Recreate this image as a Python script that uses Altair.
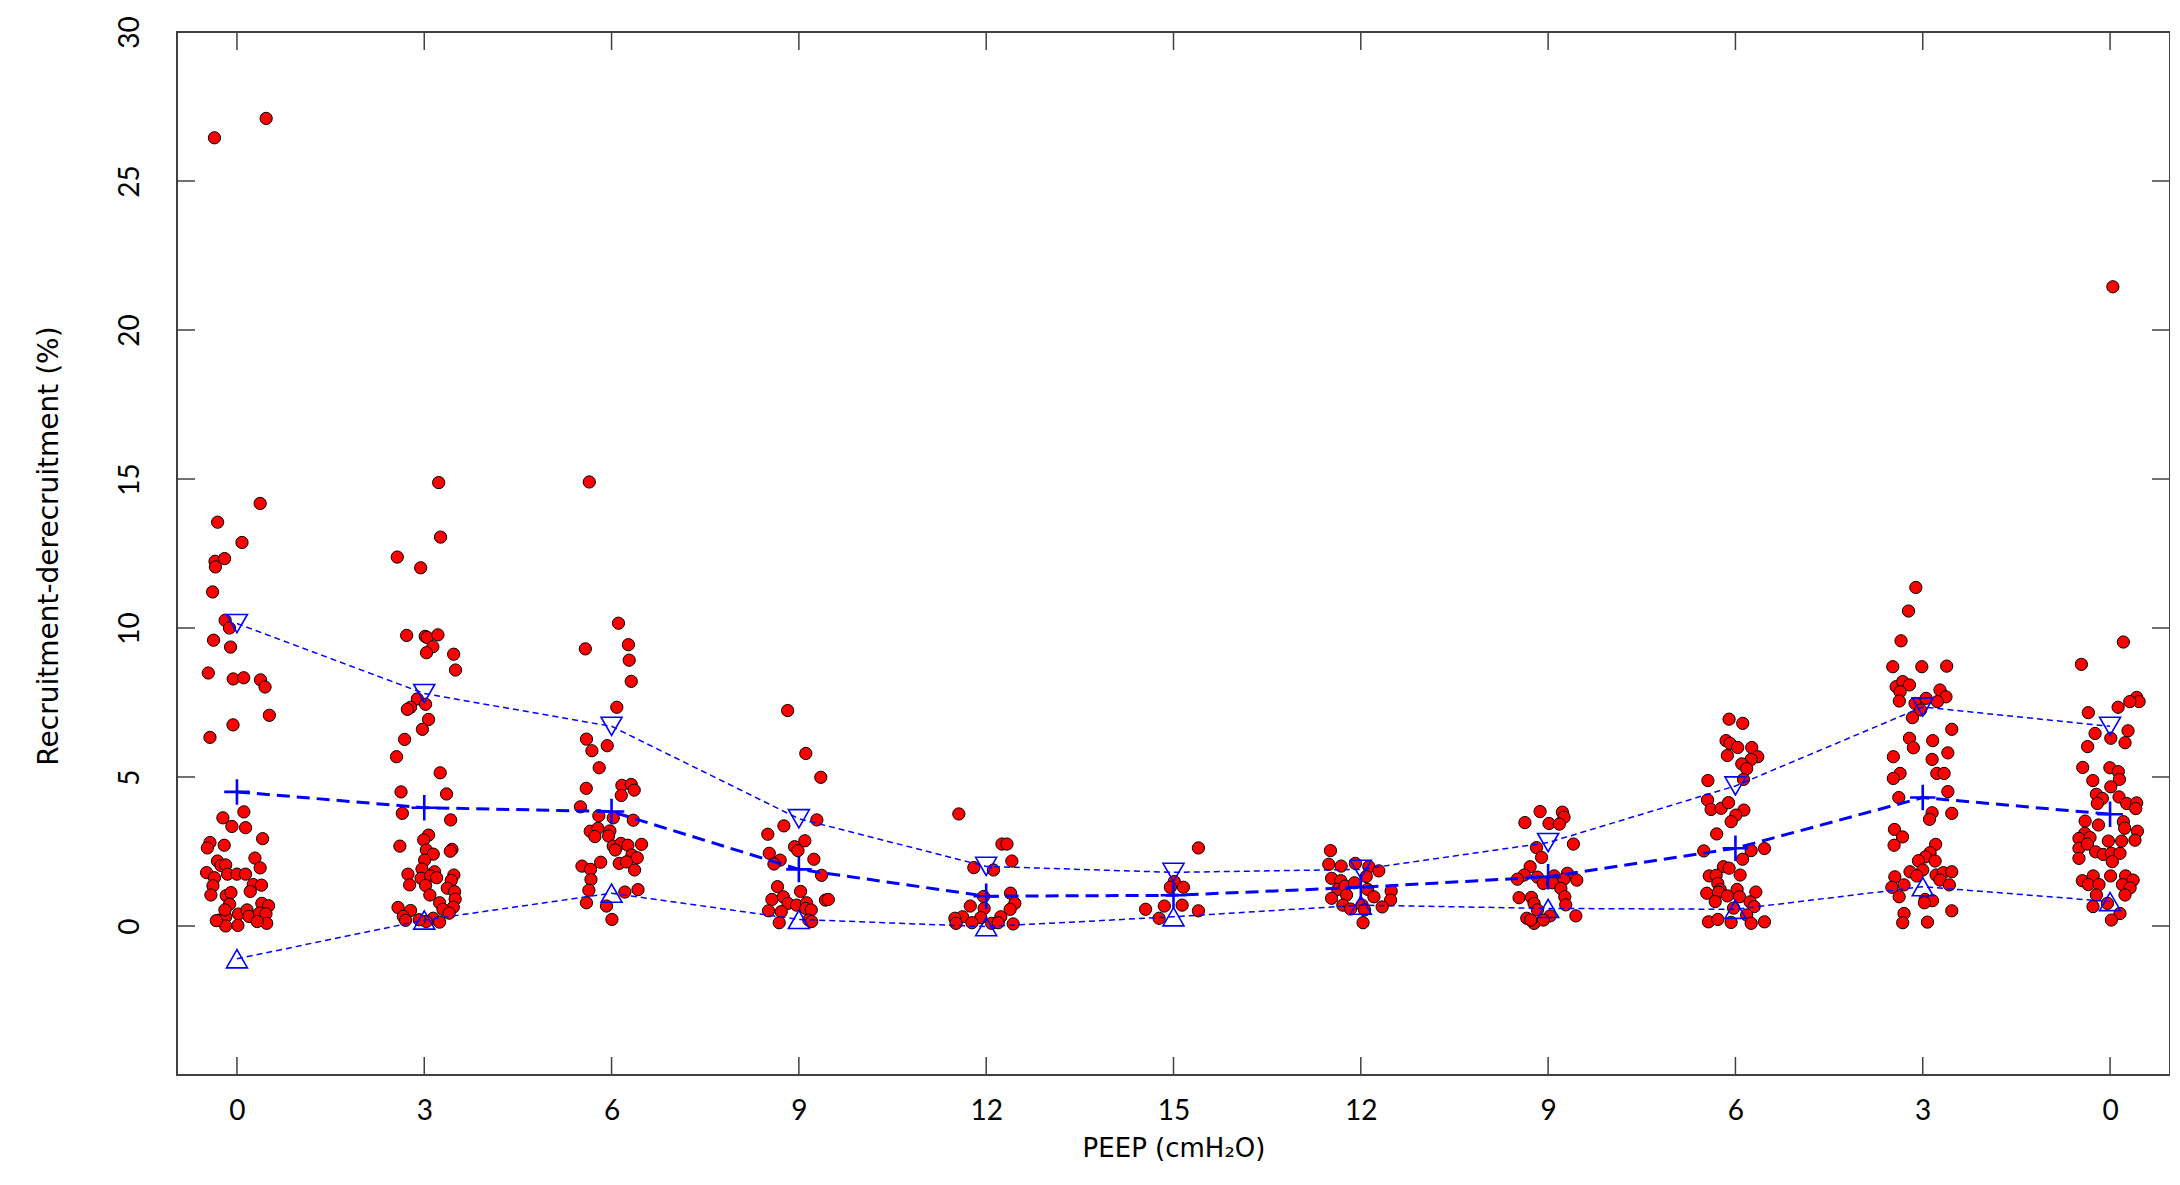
import altair as alt
import pandas as pd

peep_labels = ["0", "3", "6", "9", "12", "15", "12", "9", "6", "3", "0"]

g1_val = [27.1, 26.45, 14.18, 13.55, 12.87, 12.24, 12.33, 12.05, 11.21, 10.26, 10.0, 9.59, 9.36, 8.49, 8.29, 8.33, 8.26, 8.02, 7.07, 6.75, 6.33, 3.83, 3.63, 3.34, 3.30, 2.93, 2.80, 2.62, 2.71, 2.28, 2.18, 2.03, 2.05, 1.95, 1.79, 1.74, 1.74, 1.74, 1.62, 1.35, 1.39, 1.37, 1.16, 1.04, 1.02, 1.12, 0.76, 0.68, 0.73, 0.20, 0.31, 0.40, 0.54, 0.32, 0.43, 0.41, 0.09, 0.0, 0.02, 0.54, 0.18, 0.15]
g1_jit = [0.156, -0.12, 0.124, -0.103, 0.027, -0.117, -0.066, -0.115, -0.13, -0.063, -0.04, -0.125, -0.034, -0.153, -0.02, 0.036, 0.126, 0.15, 0.173, -0.021, -0.144, 0.037, -0.075, -0.027, 0.046, 0.137, -0.144, -0.158, -0.068, 0.096, -0.104, -0.085, -0.06, 0.124, -0.162, -0.05, 0.0, 0.046, -0.12, -0.128, 0.087, 0.131, 0.071, -0.139, -0.057, -0.032, 0.133, 0.169, -0.039, -0.094, -0.06, 0.008, 0.054, 0.064, 0.12, 0.155, 0.159, -0.06, 0.005, -0.064, -0.11, 0.108]

g2_val = [14.88, 13.05, 12.38, 12.02, 9.75, 9.72, 9.68, 9.77, 9.37, 9.17, 9.12, 8.59, 7.62, 7.44, 7.34, 7.27, 6.93, 6.60, 6.26, 5.68, 5.14, 4.50, 4.43, 3.78, 3.56, 3.05, 2.89, 2.68, 2.55, 2.41, 2.57, 2.51, 2.21, 1.91, 1.74, 1.82, 1.60, 1.68, 1.62, 1.71, 1.38, 1.36, 1.53, 1.27, 1.15, 1.04, 0.90, 0.78, 0.63, 0.62, 0.52, 0.32, 0.56, 0.43, 0.26, 0.15, 0.19, 0.13, 0.21]
g2_jit = [0.077, 0.087, -0.144, -0.019, -0.094, 0.005, 0.016, 0.073, 0.046, 0.012, 0.157, 0.167, -0.037, 0.007, -0.073, -0.09, 0.023, -0.01, -0.105, -0.148, 0.085, -0.124, 0.119, -0.117, 0.141, 0.023, -0.003, -0.13, 0.011, 0.048, 0.148, 0.139, 0.002, -0.012, -0.087, 0.055, -0.017, 0.034, 0.066, 0.158, -0.078, 0.007, 0.144, 0.123, 0.162, 0.03, 0.165, 0.082, 0.155, -0.14, -0.073, -0.112, 0.1, 0.133, 0.048, 0.011, -0.1, 0.082, -0.027]

g3_val = [14.9, 10.16, 9.30, 9.44, 8.92, 8.21, 7.34, 6.27, 5.88, 6.05, 5.31, 4.62, 4.72, 4.75, 4.56, 4.38, 4.00, 3.70, 3.63, 3.55, 3.18, 3.28, 3.00, 3.19, 3.02, 2.68, 2.77, 2.71, 2.74, 2.55, 2.38, 2.29, 2.01, 2.14, 2.10, 2.15, 1.90, 1.88, 1.56, 1.20, 1.14, 1.22, 0.78, 0.67, 0.22]
g3_jit = [-0.119, 0.037, -0.14, 0.09, 0.094, 0.105, 0.028, -0.134, -0.105, -0.023, -0.066, -0.135, 0.055, 0.105, 0.121, 0.052, -0.166, -0.068, 0.009, 0.116, -0.114, -0.073, -0.089, -0.009, -0.016, 0.009, 0.05, 0.087, 0.16, 0.02, 0.109, 0.137, -0.158, -0.058, 0.041, 0.08, -0.112, 0.123, -0.11, -0.121, 0.071, 0.141, -0.134, -0.027, 0.002]

g4_val = [7.23, 5.79, 4.99, 3.56, 3.36, 3.08, 2.86, 2.66, 2.53, 2.44, 2.21, 2.08, 2.24, 1.70, 1.32, 1.16, 0.89, 0.98, 0.76, 0.70, 0.78, 0.87, 0.89, 0.51, 0.48, 0.59, 0.54, 0.11, 0.20, 0.15]
g4_jit = [-0.06, 0.037, 0.117, 0.096, -0.08, -0.166, 0.032, -0.023, -0.005, -0.158, -0.1, -0.133, 0.08, 0.121, -0.114, 0.009, -0.144, -0.083, -0.058, -0.012, 0.041, 0.142, 0.157, -0.162, -0.094, 0.037, 0.066, -0.105, 0.053, 0.068]

g5_val = [3.76, 2.75, 2.75, 2.18, 1.96, 1.88, 0.99, 1.10, 0.76, 0.67, 0.59, 0.56, 0.31, 0.26, 0.28, 0.31, 0.11, 0.09, 0.09, 0.11, 0.07]
g5_jit = [-0.146, 0.084, 0.111, 0.137, -0.066, 0.039, -0.014, 0.13, 0.153, -0.085, -0.011, 0.128, -0.126, -0.167, -0.029, 0.078, -0.076, -0.161, 0.029, 0.064, 0.144]

g6_val = [2.62, 1.49, 1.30, 1.30, 0.67, 0.70, 0.56, 0.51, 0.26]
g6_jit = [0.133, 0.004, -0.017, 0.053, -0.049, 0.046, -0.149, 0.133, -0.077]

g7_val = [2.53, 2.07, 2.01, 2.10, 1.99, 1.85, 1.60, 1.52, 1.66, 1.23, 1.34, 1.45, 1.23, 1.17, 0.93, 1.04, 0.98, 0.87, 0.70, 0.57, 0.70, 0.64, 0.54, 0.11]
g7_jit = [-0.162, -0.171, -0.105, -0.029, 0.043, 0.096, -0.156, -0.107, 0.029, -0.123, -0.084, -0.034, 0.036, 0.162, -0.156, -0.076, 0.07, 0.159, -0.096, -0.055, 0.007, 0.114, 0.02, 0.012]

g8_val = [3.84, 3.82, 3.65, 3.47, 3.44, 3.42, 2.75, 2.63, 2.30, 1.99, 1.71, 1.57, 1.64, 1.68, 1.77, 1.57, 1.54, 1.43, 1.45, 1.26, 0.95, 0.96, 0.98, 0.76, 0.71, 0.54, 0.34, 0.34, 0.26, 0.09, 0.20, 0.20]
g8_jit = [-0.043, 0.076, 0.085, -0.124, 0.005, 0.06, 0.135, -0.062, -0.035, -0.096, -0.128, -0.164, -0.057, 0.032, 0.103, 0.084, 0.153, -0.026, 0.023, 0.068, -0.155, -0.089, 0.089, -0.075, 0.094, -0.057, 0.011, 0.148, -0.114, -0.075, -0.025, -0.093]

g9_val = [6.94, 6.80, 6.22, 6.13, 5.99, 5.99, 5.72, 5.68, 5.59, 5.44, 5.28, 4.88, 4.92, 4.23, 3.91, 3.95, 4.14, 3.89, 3.72, 3.50, 3.09, 2.52, 2.53, 2.60, 2.24, 1.99, 1.94, 1.68, 1.70, 1.71, 1.43, 1.23, 1.23, 1.10, 1.14, 1.14, 1.01, 0.98, 0.82, 0.81, 0.65, 0.60, 0.37, 0.14, 0.22, 0.12, 0.09, 0.14]
g9_jit = [-0.034, 0.039, -0.05, -0.029, 0.012, 0.087, -0.043, 0.119, 0.084, 0.034, 0.06, -0.147, 0.043, -0.149, -0.13, -0.076, -0.037, 0.045, 0.002, -0.023, -0.1, -0.169, 0.084, 0.155, 0.038, -0.064, -0.034, -0.14, -0.103, 0.025, -0.094, -0.082, 0.009, -0.153, -0.09, 0.109, -0.043, 0.022, -0.108, 0.078, 0.1, -0.01, 0.06, -0.144, -0.094, -0.023, 0.084, 0.155]

g10_val = [11.36, 10.57, 9.57, 8.70, 8.70, 8.72, 8.03, 8.20, 8.09, 7.86, 7.92, 7.69, 7.55, 7.64, 7.53, 7.47, 7.25, 6.99, 6.60, 6.30, 5.98, 6.22, 5.68, 5.81, 5.59, 5.12, 4.95, 5.12, 5.12, 4.31, 4.51, 3.80, 3.78, 3.58, 3.24, 2.99, 2.71, 2.74, 2.46, 2.32, 2.19, 2.18, 1.82, 1.88, 1.68, 1.71, 1.79, 1.82, 1.65, 1.54, 1.38, 1.38, 1.30, 0.98, 0.89, 0.85, 0.78, 0.51, 0.42, 0.11, 0.13]
g10_jit = [-0.037, -0.076, -0.116, -0.16, -0.005, 0.128, -0.142, -0.107, -0.071, -0.121, 0.092, 0.124, -0.125, 0.018, 0.078, -0.041, -0.011, -0.055, 0.155, -0.071, -0.05, 0.053, -0.157, 0.134, 0.05, -0.121, -0.157, 0.075, 0.114, -0.128, 0.134, 0.05, 0.155, 0.036, -0.151, -0.108, -0.153, 0.069, 0.039, 0.014, -0.023, 0.066, -0.068, 0.0, -0.032, 0.071, 0.11, 0.155, -0.149, 0.092, -0.1, 0.142, -0.165, -0.126, 0.013, 0.052, 0.009, 0.155, -0.1, -0.107, 0.025]

g11_val = [21.45, 9.53, 8.78, 7.67, 7.53, 7.53, 7.34, 7.16, 6.46, 6.55, 6.30, 6.15, 6.02, 5.32, 5.31, 5.18, 4.88, 4.92, 4.67, 4.42, 4.28, 4.33, 4.11, 4.11, 4.13, 3.94, 3.52, 3.39, 3.50, 3.28, 3.11, 3.18, 2.94, 2.97, 2.85, 2.85, 2.88, 2.61, 2.75, 2.49, 2.40, 2.44, 2.44, 2.27, 2.16, 1.52, 1.68, 1.68, 1.68, 1.54, 1.39, 1.39, 1.39, 1.28, 1.04, 1.04, 0.65, 0.76, 0.42, 0.20]
g11_jit = [0.015, 0.071, -0.153, 0.142, 0.155, 0.105, 0.043, -0.116, -0.08, 0.096, 0.004, 0.08, -0.12, -0.146, -0.001, 0.044, -0.092, 0.05, 0.004, -0.073, -0.041, 0.048, -0.068, 0.089, 0.142, 0.137, -0.133, -0.062, 0.071, 0.078, -0.135, 0.146, -0.166, -0.107, -0.009, 0.062, 0.133, -0.166, -0.121, -0.077, -0.036, 0.007, 0.053, -0.166, 0.012, -0.148, -0.09, 0.003, 0.083, 0.123, -0.116, -0.059, 0.066, 0.107, -0.073, 0.08, -0.091, -0.014, 0.053, 0.007]

upper_vals = [10.15, 7.8, 6.7, 3.6, 2.0, 1.8, 1.9, 2.8, 4.7, 7.35, 6.7]
mean_vals = [4.5, 3.97, 3.84, 1.9, 1.0, 1.03, 1.30, 1.65, 2.61, 4.31, 3.75]
lower_vals = [-1.1, 0.2, 1.1, 0.22, -0.02, 0.31, 0.70, 0.59, 0.56, 1.32, 0.82]

y_tick_values = [0, 5, 10, 15, 20, 25, 30]

groups = [
    (g1_val, g1_jit), (g2_val, g2_jit), (g3_val, g3_jit), (g4_val, g4_jit),
    (g5_val, g5_jit), (g6_val, g6_jit), (g7_val, g7_jit), (g8_val, g8_jit),
    (g9_val, g9_jit), (g10_val, g10_jit), (g11_val, g11_jit),
]
rows = []
for i, (vals, jits) in enumerate(groups):
    for v, j in zip(vals, jits):
        rows.append({"xpos": i + 1 + j, "value": v})
points_df = pd.DataFrame(rows)

positions = list(range(1, len(peep_labels) + 1))
summary_df = pd.DataFrame({
    "pos": positions, "upper": upper_vals, "mean": mean_vals, "lower": lower_vals,
})
xt_df = pd.DataFrame({"pos": positions})
yt_df = pd.DataFrame({"v": y_tick_values})

W, H = 1993, 1043
FONT = "Lato"
TFONT = "DejaVu Sans"
FRAME = "#404040"
BLUE = "#0000FF"

xscale = alt.Scale(domain=[0.68, 11.32], nice=False, zero=False)
yscale = alt.Scale(domain=[-5, 30], nice=False, zero=False)

label_expr = "[" + ",".join("'%s'" % s for s in peep_labels) + "][round(datum.value) - 1]"

x_axis = alt.Axis(
    values=positions, labelExpr=label_expr, title="PEEP (cmH\u2082O)",
    grid=False, ticks=False, tickSize=0, domain=False,
    labelFont=FONT, labelFontSize=28, labelColor="black", labelPadding=22,
    labelFlush=False, labelOverlap=False,
    titleFont=TFONT, titleFontSize=26, titleFontWeight="normal", titleColor="black",
    titlePadding=10,
)
y_axis = alt.Axis(
    values=y_tick_values, title="Recruitment-derecruitment (%)",
    grid=False, ticks=False, tickSize=0, domain=False,
    labelAngle=270, labelAlign="center", labelBaseline="middle", labelPadding=47,
    labelFont=FONT, labelFontSize=28, labelColor="black", labelFlush=False,
    labelOverlap=False,
    titleFont=TFONT, titleFontSize=28, titleFontWeight="normal", titleColor="black",
    titleAngle=270, titleAlign="center", titleBaseline="middle",
    titleX=-128, titleY=H / 2 - 8,
)


def X(field):
    return alt.X(field, scale=xscale, axis=x_axis)


def Y(field):
    return alt.Y(field, scale=yscale, axis=y_axis)


pts = alt.Chart(points_df).mark_circle(
    size=150, fill="#FF0000", stroke="#000000", strokeWidth=1, opacity=1
).encode(x=X("xpos:Q"), y=Y("value:Q"))

base = alt.Chart(summary_df)

bound_up_line = base.mark_line(color=BLUE, strokeWidth=1.5, strokeDash=[6, 4]).encode(
    x=X("pos:Q"), y=Y("upper:Q"))
bound_lo_line = base.mark_line(color=BLUE, strokeWidth=1.5, strokeDash=[6, 4]).encode(
    x=X("pos:Q"), y=Y("lower:Q"))
mean_line = base.mark_line(color=BLUE, strokeWidth=3, strokeDash=[13, 7]).encode(
    x=X("pos:Q"), y=Y("mean:Q"))

up_sym = base.mark_point(shape="triangle-down", size=440, filled=False, color=BLUE,
                         strokeWidth=1.6, opacity=1).encode(x=X("pos:Q"), y=Y("upper:Q"))
lo_sym = base.mark_point(shape="triangle-up", size=440, filled=False, color=BLUE,
                         strokeWidth=1.6, opacity=1).encode(x=X("pos:Q"), y=Y("lower:Q"))
mean_sym = base.mark_point(shape="M-1,0L1,0M0,-1L0,1", size=650, filled=False, color=BLUE,
                           strokeWidth=2.6, opacity=1).encode(x=X("pos:Q"), y=Y("mean:Q"))

TL = 18
xt = alt.Chart(xt_df)
x_ticks_bottom = xt.mark_rule(color=FRAME, strokeWidth=1.5).encode(
    x=X("pos:Q"), y=alt.value(H), y2=alt.value(H - TL))
x_ticks_top = xt.mark_rule(color=FRAME, strokeWidth=1.5).encode(
    x=X("pos:Q"), y=alt.value(0), y2=alt.value(TL))
yt = alt.Chart(yt_df)
y_ticks_left = yt.mark_rule(color=FRAME, strokeWidth=1.5).encode(
    y=Y("v:Q"), x=alt.value(0), x2=alt.value(TL))
y_ticks_right = yt.mark_rule(color=FRAME, strokeWidth=1.5).encode(
    y=Y("v:Q"), x=alt.value(W - TL), x2=alt.value(W))

chart = alt.layer(
    pts, x_ticks_bottom, x_ticks_top, y_ticks_left, y_ticks_right,
    bound_up_line, bound_lo_line, mean_line, up_sym, lo_sym, mean_sym,
).properties(
    width=W, height=H, autosize="none",
    padding={"left": 169, "top": 24, "right": 0, "bottom": 95},
    background="white",
).configure_view(stroke=FRAME, strokeWidth=2)

chart.save("out.html", embed_options={"renderer": "svg", "actions": False})
